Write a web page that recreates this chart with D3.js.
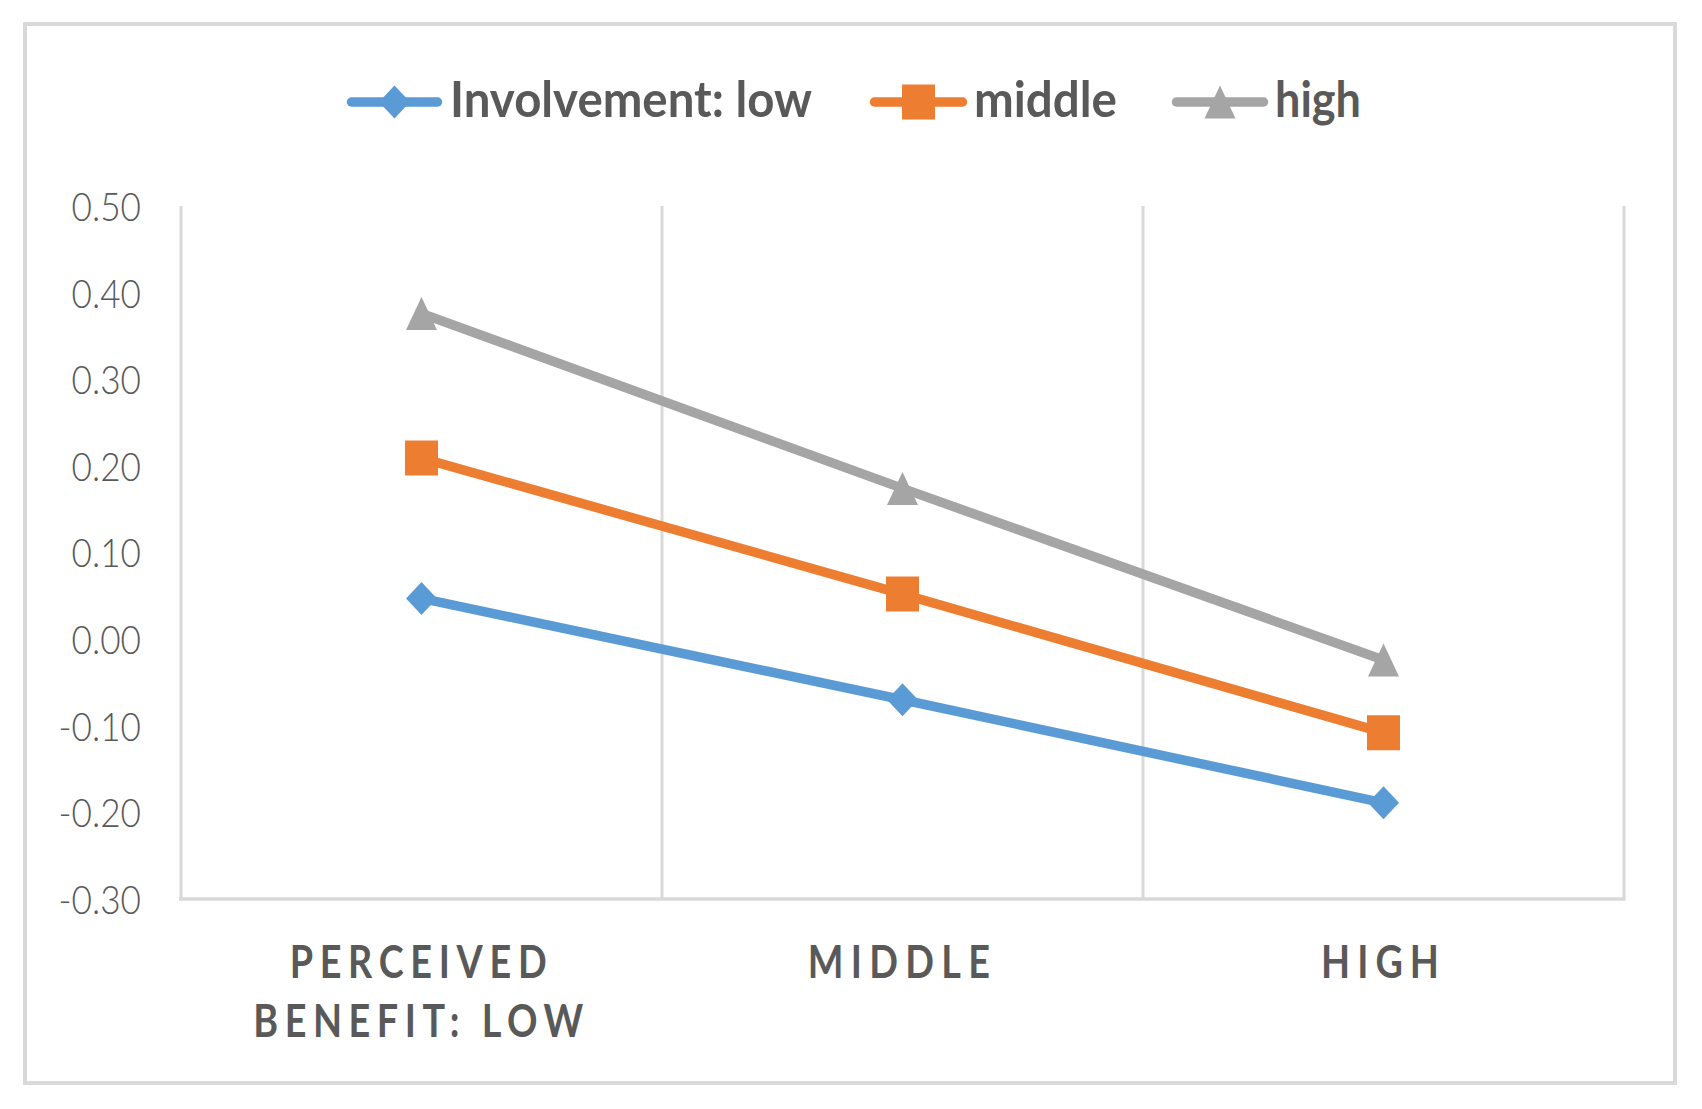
<!DOCTYPE html>
<html>
<head>
<meta charset="utf-8">
<script src="https://cdn.jsdelivr.net/npm/d3@7"></script>
<style>
  html, body { margin: 0; padding: 0; background: #ffffff; }
  svg { display: block; }
</style>
</head>
<body>
<svg id="chart" width="1702" height="1109"></svg>
<script>
// ---------------- data ----------------
const categories = [["PERCEIVED", "BENEFIT: LOW"], ["MIDDLE"], ["HIGH"]];
const seriesNames = ["Involvement: low", "middle", "high"];
const lowValues = [0.047, -0.070, -0.189];
const middleValues = [0.209, 0.052, -0.108];
const highValues = [0.376, 0.174, -0.024];
const yTickValues = [-0.30, -0.20, -0.10, 0.00, 0.10, 0.20, 0.30, 0.40, 0.50];

// ---------------- layout / style ----------------
const W = 1702, H = 1109;
const plot = { left: 181, right: 1624, top: 206, bottom: 899 };
const textColor = "#595959";
const gridColor = "#d9d9d9";
const FONT = 'Lato, "Noto Sans", "Liberation Sans", sans-serif';
const colors = ["#5B9BD5", "#ED7D31", "#A5A5A5"];
const shapes = ["diamond", "square", "triangle"];
const seriesValues = [lowValues, middleValues, highValues];

const svg = d3.select("#chart");
svg.append("rect").attr("width", W).attr("height", H).attr("fill", "#fff");

// outer border
svg.append("rect")
  .attr("x", 25).attr("y", 24).attr("width", 1650).attr("height", 1059)
  .attr("fill", "none").attr("stroke", gridColor).attr("stroke-width", 4);

const x = d3.scaleBand().domain(d3.range(categories.length)).range([plot.left, plot.right]).padding(0);
const y = d3.scaleLinear().domain([-0.3, 0.5]).range([plot.bottom, plot.top]);

// condense a text node horizontally by factor k
function condense(sel, k) {
  sel.each(function () {
    const w = this.getComputedTextLength();
    d3.select(this).attr("textLength", w * k).attr("lengthAdjust", "spacingAndGlyphs");
  });
}

// vertical category gridlines
const g = svg.append("g");
g.selectAll("line.vgrid")
  .data(d3.range(categories.length))
  .join("line")
  .attr("class", "vgrid")
  .attr("x1", d => x(d) + x.bandwidth()).attr("x2", d => x(d) + x.bandwidth())
  .attr("y1", y(0.5)).attr("y2", y(-0.3))
  .attr("stroke", gridColor).attr("stroke-width", 3);

// left axis line
g.append("line")
  .attr("x1", x(0)).attr("x2", x(0))
  .attr("y1", y(0.5)).attr("y2", y(-0.3))
  .attr("stroke", gridColor).attr("stroke-width", 3);

// y axis labels
const yAxis = d3.axisLeft(y)
  .tickValues(yTickValues)
  .tickSize(0)
  .tickPadding(40)
  .tickFormat(d => (Math.abs(d) < 1e-9 ? 0 : d).toFixed(2));
const yg = svg.append("g").attr("transform", `translate(${plot.left},0)`).call(yAxis);
yg.select(".domain").remove();
yg.selectAll("text")
  .attr("fill", textColor)
  .style("font-size", "40px")
  .style("font-family", FONT)
  .style("font-weight", "300")
  .attr("dy", "0.36em")
  .call(condense, 0.88);

// bottom axis line
g.append("line")
  .attr("x1", plot.left - 2).attr("x2", plot.right + 1.5)
  .attr("y1", y(-0.3)).attr("y2", y(-0.3))
  .attr("stroke", gridColor).attr("stroke-width", 3.5);

// x category labels: condensed glyphs with wide letter spacing
const catLineWidths = { "PERCEIVED": 257, "BENEFIT: LOW": 330, "MIDDLE": 182, "HIGH": 118 };
const lineY = [962, 1021];
const glyphK = 0.84;
categories.forEach((lines, i) => {
  lines.forEach((t, j) => {
    const cx = x(i) + x.bandwidth() / 2;
    const gt = svg.append("g").attr("transform", `translate(${cx},${lineY[j]}) scale(${glyphK},1)`);
    const txt = gt.append("text")
      .attr("x", 0).attr("y", 0)
      .attr("dy", "0.36em")
      .attr("text-anchor", "middle")
      .attr("fill", textColor)
      .style("font-family", FONT)
      .style("font-size", "45px")
      .style("font-weight", "bold")
      .text(t);
    const w0 = txt.node().getComputedTextLength();
    const n = t.length - 1;
    const ls = (catLineWidths[t] / glyphK - w0) / n;
    txt.style("letter-spacing", `${ls}px`);
  });
});

// marker path helper
function markerPath(shape, w, h) {
  if (shape === "diamond") return `M0,${-h / 2}L${w / 2},0L0,${h / 2}L${-w / 2},0Z`;
  if (shape === "triangle") return `M0,${-h / 2}L${w / 2},${h / 2}L${-w / 2},${h / 2}Z`;
  return `M${-w / 2},${-h / 2}H${w / 2}V${h / 2}H${-w / 2}Z`;
}
const markerSize = { diamond: [31, 33], square: [33, 35], triangle: [31, 33] };

// series lines
const line = d3.line().x((d, i) => x(i) + x.bandwidth() / 2).y(d => y(d));
seriesValues.forEach((vals, s) => {
  svg.append("path")
    .datum(vals)
    .attr("d", line)
    .attr("fill", "none")
    .attr("stroke", colors[s])
    .attr("stroke-width", 9.5)
    .attr("stroke-linejoin", "round")
    .attr("stroke-linecap", "round");
});
seriesValues.forEach((vals, s) => {
  const [mw, mh] = markerSize[shapes[s]];
  svg.append("g").selectAll("path")
    .data(vals)
    .join("path")
    .attr("transform", (d, i) => `translate(${x(i) + x.bandwidth() / 2},${y(d)})`)
    .attr("d", markerPath(shapes[s], mw, mh))
    .attr("fill", colors[s]);
});

// legend
const legendY = 102;
const legendItems = [
  { x0: 347, x1: 442, tx: 450, tw: 362 },
  { x0: 870, x1: 967, tx: 974, tw: 143 },
  { x0: 1172, x1: 1268, tx: 1275, tw: 86 }
];
legendItems.forEach((it, s) => {
  const lg = svg.append("g");
  lg.append("line")
    .attr("x1", it.x0 + 4.5).attr("x2", it.x1 - 4.5)
    .attr("y1", legendY).attr("y2", legendY)
    .attr("stroke", colors[s]).attr("stroke-width", 9.5).attr("stroke-linecap", "round");
  const [mw, mh] = markerSize[shapes[s]];
  lg.append("path")
    .attr("transform", `translate(${(it.x0 + it.x1) / 2},${legendY})`)
    .attr("d", markerPath(shapes[s], mw, mh))
    .attr("fill", colors[s]);
  lg.append("text")
    .attr("x", it.tx).attr("y", 117)
    .attr("fill", textColor)
    .style("font-family", FONT)
    .style("font-size", "50px")
    .style("font-weight", "bold")
    .attr("textLength", it.tw)
    .attr("lengthAdjust", "spacingAndGlyphs")
    .text(seriesNames[s]);
});
</script>
</body>
</html>
